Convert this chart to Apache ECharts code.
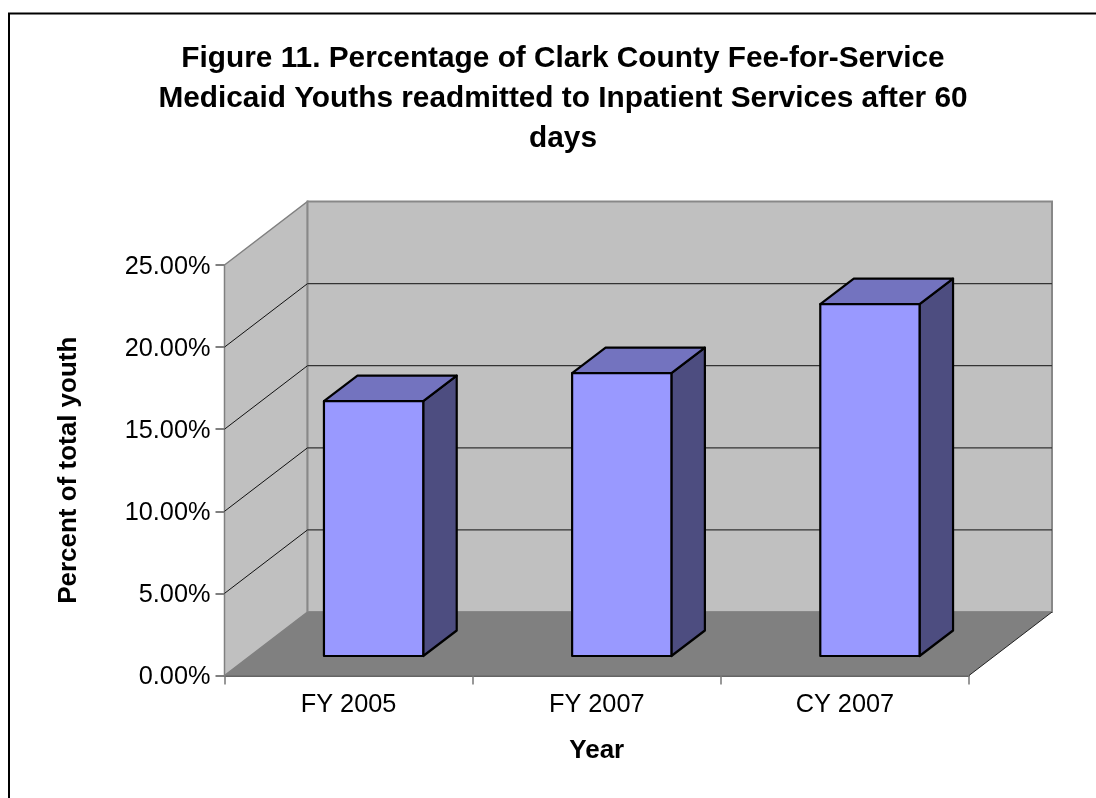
<!DOCTYPE html>
<html>
<head>
<meta charset="utf-8">
<style>html,body{margin:0;padding:0;background:#fff}#c{width:1096px;height:798px}</style>
<script src="https://cdn.jsdelivr.net/npm/echarts@6/dist/echarts.min.js"></script>
</head>
<body>
<div id="c"></div>
<script>
const categories = ['FY 2005', 'FY 2007', 'CY 2007'];
const values = [15.52, 17.23, 21.43];
const tickValues = [0, 5, 10, 15, 20, 25];
const titleLines = ['Figure 11. Percentage of Clark County Fee-for-Service', 'Medicaid Youths readmitted to Inpatient Services after 60', 'days'];

const FONT = '"Liberation Sans", Arial, sans-serif';
const DEPTH = [83, -63.5];
const BAR_INSET = [25, -19.5];
const BAR_DEPTH = [33.5, -25.5];
const BAR_RATIO = 0.4;

const chart = echarts.init(document.getElementById('c'), null, {renderer: 'canvas'});

function renderWalls(params, api) {
  const o = api.coord([0, 0]);
  const xEnd = api.coord([categories.length - 1, 0])[0] + api.size([1, 0])[0] / 2;
  const x0 = api.coord([0, 0])[0] - api.size([1, 0])[0] / 2;
  const yTop = api.coord([0, 25])[1];
  const yBot = o[1];
  const dx = DEPTH[0], dy = DEPTH[1];
  return {type: 'group', children: [
    {type: 'polygon', shape: {points: [[x0, yTop], [x0 + dx, yTop + dy], [x0 + dx, yBot + dy], [x0, yBot]]},
      style: {fill: '#c0c0c0', stroke: '#808080', lineWidth: 1.5}},
    {type: 'rect', shape: {x: x0 + dx, y: yTop + dy, width: xEnd - x0, height: yBot - yTop},
      style: {fill: '#c0c0c0', stroke: '#888888', lineWidth: 2}},
    {type: 'polygon', shape: {points: [[x0, yBot], [xEnd, yBot], [xEnd + dx, yBot + dy], [x0 + dx, yBot + dy]]},
      style: {fill: '#808080', stroke: null}},
    {type: 'line', shape: {x1: xEnd, y1: yBot, x2: xEnd + dx, y2: yBot + dy}, style: {stroke: '#222', lineWidth: 1}}
  ]};
}
function renderGrid(params, api) {
  const v = api.value(0);
  if (v === 0 || v === 25) return null;
  const sz = api.size([1, 0])[0];
  const p = api.coord([0, v]);
  const x0 = p[0] - sz / 2;
  const xEnd = api.coord([categories.length - 1, v])[0] + sz / 2;
  return {type: 'group', children: [
    {type: 'line', shape: {x1: x0, y1: p[1], x2: x0 + DEPTH[0], y2: p[1] + DEPTH[1]}, style: {stroke: '#111', lineWidth: 1}},
    {type: 'line', shape: {x1: x0 + DEPTH[0], y1: p[1] + DEPTH[1], x2: xEnd + DEPTH[0], y2: p[1] + DEPTH[1]}, style: {stroke: '#333', lineWidth: 1.3}}
  ]};
}
function renderBar(params, api) {
  const c = api.coord([api.value(0), api.value(1)]);
  const base = api.coord([api.value(0), 0]);
  const w = api.size([1, 0])[0] * BAR_RATIO;
  const l = c[0] - w / 2 + BAR_INSET[0], r = l + w;
  const t = c[1] + BAR_INSET[1], b = base[1] + BAR_INSET[1];
  const dx = BAR_DEPTH[0], dy = BAR_DEPTH[1];
  const line = {stroke: '#000', lineWidth: 2.2, lineJoin: 'round'};
  return {type: 'group', children: [
    {type: 'polygon', shape: {points: [[r, t], [r + dx, t + dy], [r + dx, b + dy], [r, b]]}, style: Object.assign({fill: '#4d4d80'}, line)},
    {type: 'polygon', shape: {points: [[l, t], [l + dx, t + dy], [r + dx, t + dy], [r, t]]}, style: Object.assign({fill: '#7373bf'}, line)},
    {type: 'rect', shape: {x: l, y: t, width: w, height: b - t}, style: Object.assign({fill: '#9999ff'}, line)}
  ]};
}

chart.setOption({
  animation: false,
  backgroundColor: '#fff',
  graphic: [
    {type: 'polyline', silent: true, z: 0, shape: {points: [[9, 798], [9, 13.5], [1096, 13.5]]}, style: {fill: null, stroke: '#000', lineWidth: 2}}
  ],
  title: {
    text: titleLines.join('\n'),
    left: 558, top: 34, textAlign: 'center',
    textStyle: {fontFamily: FONT, fontWeight: 'bold', fontSize: 29.8, lineHeight: 40, color: '#000'}
  },
  grid: {left: 224.5, top: 265, width: 744.5, height: 410.5, containLabel: false},
  xAxis: {
    type: 'category', data: categories, boundaryGap: true,
    name: 'Year', nameLocation: 'middle', nameGap: 62,
    nameTextStyle: {fontFamily: FONT, fontWeight: 'bold', fontSize: 26, color: '#000'},
    axisLine: {onZero: false, lineStyle: {color: '#333', width: 1.5}},
    axisTick: {show: true, alignWithLabel: false, length: 9, lineStyle: {color: '#777', width: 1.5}},
    axisLabel: {fontFamily: FONT, fontSize: 25.3, color: '#000', margin: 17}
  },
  yAxis: {
    type: 'value', min: 0, max: 25, interval: 5,
    name: 'Percent of total youth', nameLocation: 'middle', nameGap: 143, nameRotate: 90,
    nameTextStyle: {fontFamily: FONT, fontWeight: 'bold', fontSize: 26, color: '#000'},
    axisLine: {show: true, lineStyle: {color: '#444', width: 1.5}},
    axisTick: {show: true, length: 9, lineStyle: {color: '#555', width: 1.5}},
    axisLabel: {
      color: '#000', margin: 14,
      formatter: v => '{t|' + v.toFixed(2) + '%}',
      rich: {t: {fontFamily: FONT, fontSize: 25.3, color: '#000', padding: [4, 0, 0, 0]}}
    },
    splitLine: {show: false}
  },
  series: [
    {type: 'custom', z: 1, silent: true, renderItem: renderWalls, data: [[0]], encode: {x: 0}, clip: false},
    {type: 'custom', z: 2, silent: true, renderItem: renderGrid, coordinateSystem: 'cartesian2d', data: tickValues.map(v => [v]), encode: {y: 0}, clip: false},
    {type: 'custom', z: 3, renderItem: renderBar, data: values.map((v, i) => [i, v]), encode: {x: 0, y: 1}, clip: false}
  ]
});
</script>
</body>
</html>
